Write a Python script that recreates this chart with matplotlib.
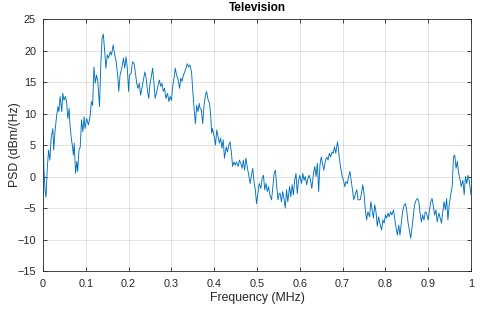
import matplotlib
matplotlib.use("Agg")
import matplotlib.pyplot as plt

# values
freq = [
    0.000, 0.002, 0.005, 0.007, 0.010, 0.013, 0.016, 0.019, 0.023, 0.025,
    0.028, 0.032, 0.035, 0.037, 0.040, 0.044, 0.046, 0.049, 0.052, 0.055,
    0.058, 0.061, 0.063, 0.066, 0.069, 0.071, 0.073, 0.076, 0.079, 0.081,
    0.084, 0.087, 0.090, 0.093, 0.096, 0.098, 0.102, 0.106, 0.110, 0.113,
    0.116, 0.119, 0.122, 0.125, 0.128, 0.132, 0.135, 0.138, 0.141, 0.144,
    0.147, 0.150, 0.153, 0.157, 0.160, 0.164, 0.167, 0.171, 0.175, 0.177,
    0.180, 0.184, 0.188, 0.191, 0.194, 0.197, 0.200, 0.202, 0.206, 0.209,
    0.213, 0.216, 0.219, 0.222, 0.225, 0.228, 0.231, 0.234, 0.238, 0.241,
    0.244, 0.247, 0.250, 0.253, 0.256, 0.259, 0.262, 0.266, 0.269, 0.272,
    0.275, 0.278, 0.281, 0.284, 0.287, 0.291, 0.294, 0.297, 0.300, 0.303,
    0.306, 0.309, 0.312, 0.315, 0.319, 0.322, 0.325, 0.328, 0.331, 0.334,
    0.337, 0.340, 0.343, 0.347, 0.350, 0.353, 0.356, 0.359, 0.362, 0.365,
    0.367, 0.370, 0.373, 0.376, 0.379, 0.382, 0.386, 0.389, 0.392, 0.394,
    0.396, 0.400, 0.403, 0.406, 0.409, 0.412, 0.415, 0.418, 0.421, 0.424,
    0.428, 0.431, 0.434, 0.437, 0.440, 0.443, 0.446, 0.449, 0.452, 0.456,
    0.459, 0.462, 0.465, 0.468, 0.471, 0.474, 0.477, 0.481, 0.484, 0.487,
    0.490, 0.493, 0.496, 0.499, 0.502, 0.505, 0.509, 0.512, 0.515, 0.518,
    0.521, 0.524, 0.527, 0.530, 0.534, 0.537, 0.540, 0.543, 0.546, 0.549,
    0.552, 0.554, 0.557, 0.560, 0.563, 0.566, 0.569, 0.572, 0.576, 0.579,
    0.582, 0.585, 0.588, 0.591, 0.594, 0.597, 0.600, 0.604, 0.607, 0.610,
    0.613, 0.616, 0.619, 0.622, 0.625, 0.628, 0.632, 0.635, 0.638, 0.641,
    0.644, 0.647, 0.650, 0.653, 0.656, 0.660, 0.663, 0.666, 0.669, 0.672,
    0.675, 0.678, 0.681, 0.684, 0.688, 0.690, 0.692, 0.695, 0.699, 0.702,
    0.705, 0.708, 0.711, 0.714, 0.717, 0.720, 0.723, 0.726, 0.730, 0.733,
    0.736, 0.741, 0.744, 0.747, 0.750, 0.753, 0.756, 0.759, 0.763, 0.766,
    0.769, 0.772, 0.775, 0.778, 0.781, 0.784, 0.787, 0.791, 0.794, 0.797,
    0.800, 0.803, 0.806, 0.809, 0.812, 0.815, 0.819, 0.822, 0.825, 0.828,
    0.831, 0.834, 0.837, 0.840, 0.844, 0.847, 0.850, 0.853, 0.856, 0.859,
    0.862, 0.865, 0.868, 0.872, 0.875, 0.878, 0.881, 0.884, 0.887, 0.890,
    0.893, 0.896, 0.900, 0.903, 0.906, 0.909, 0.912, 0.915, 0.918, 0.921,
    0.925, 0.928, 0.931, 0.934, 0.937, 0.940, 0.943, 0.946, 0.949, 0.953,
    0.956, 0.959, 0.962, 0.965, 0.968, 0.971, 0.974, 0.977, 0.981, 0.984,
    0.987, 0.990, 0.993, 0.996, 1.000,
]
psd = [
    9.0, 1.3, -2.4, -3.3, 1.3, 4.2, 2.6, 6.1, 7.6, 4.2,
    7.1, 9.8, 11.1, 10.3, 12.7, 10.3, 13.2, 12.1, 12.7, 11.9,
    9.2, 10.8, 8.2, 6.1, 4.7, 3.4, 5.3, 0.5, 2.4, 0.8,
    4.2, 4.7, 9.0, 7.1, 9.5, 7.6, 9.2, 8.2, 9.5, 11.9,
    11.3, 17.4, 14.8, 16.1, 15.1, 11.1, 17.7, 21.9, 22.6, 19.8,
    17.2, 19.3, 18.8, 19.8, 19.3, 20.9, 19.5, 18.2, 15.6, 13.5,
    16.1, 17.2, 18.8, 17.2, 19.0, 17.2, 13.5, 16.1, 16.4, 18.2,
    17.9, 16.4, 14.8, 14.0, 14.8, 12.9, 14.0, 15.1, 16.6, 15.6,
    13.7, 12.4, 14.8, 15.8, 17.2, 15.1, 12.4, 13.5, 14.5, 15.3,
    14.3, 14.8, 13.5, 14.0, 12.4, 13.2, 11.9, 12.7, 12.1, 14.3,
    15.6, 17.2, 16.1, 15.6, 14.0, 15.6, 15.1, 16.1, 16.6, 17.2,
    17.9, 17.4, 17.7, 16.6, 13.5, 10.8, 8.4, 11.3, 10.3, 11.6,
    10.8, 10.6, 8.4, 11.1, 12.7, 13.5, 12.1, 11.6, 9.5, 6.9,
    7.6, 6.3, 5.0, 7.4, 6.3, 5.3, 6.1, 4.5, 5.8, 2.9,
    4.7, 3.9, 5.0, 5.5, 3.9, 1.6, 2.3, 1.8, 2.3, 1.6,
    2.6, 2.1, 1.3, 2.6, 1.0, 2.9, 1.6, 0.0, -1.1, 0.2,
    1.3, -0.8, -2.1, -4.3, -2.7, -1.1, -1.9, -0.3, 0.2, -2.1,
    -1.1, -2.4, -1.6, -2.9, -3.7, -1.6, 0.5, 1.0, -1.6, -3.7,
    -2.7, -2.7, -4.0, -2.4, -3.5, -5.0, -2.1, -4.0, -1.6, -3.2,
    -1.3, -2.9, -0.6, 0.5, -2.7, -0.6, 0.2, -1.1, 0.5, -0.6,
    0.0, -1.3, -0.3, 0.2, -0.6, -1.9, 0.5, 1.6, 0.0, 2.1,
    -2.4, 1.8, 3.1, 2.1, 1.0, 2.6, 3.1, 2.6, 3.7, 3.1,
    3.9, 3.7, 4.7, 3.7, 5.5, 4.5, 3.1, 1.6, 0.0, -0.6,
    -1.6, -0.8, -1.1, 0.0, 0.8, -0.6, -2.1, -3.7, -2.7, -2.1,
    -3.7, -3.7, -2.7, -1.3, -2.7, -5.3, -6.9, -5.6, -6.4, -4.0,
    -5.3, -6.6, -4.5, -5.6, -7.9, -6.4, -7.4, -8.5, -6.9, -7.4,
    -6.1, -6.6, -5.8, -6.4, -5.6, -6.1, -5.3, -6.9, -8.2, -9.3,
    -7.7, -9.3, -7.4, -5.6, -4.5, -4.3, -5.6, -7.4, -8.5, -9.8,
    -8.2, -6.4, -4.5, -3.7, -3.5, -4.0, -5.8, -7.2, -6.1, -6.9,
    -5.6, -5.8, -6.9, -5.3, -4.0, -3.5, -4.8, -6.1, -5.3, -7.2,
    -5.8, -6.6, -7.4, -5.6, -4.0, -5.3, -3.5, -6.9, -4.5, -2.7,
    -1.6, 3.1, 3.4, 1.3, 2.4, 0.5, -0.3, -1.6, -0.6, -2.9,
    0.0, -1.1, 0.2, -0.8, -2.9,
]
xticks = [0, 0.1, 0.2, 0.3, 0.4, 0.5, 0.6, 0.7, 0.8, 0.9, 1]
xticklabels = ["0", "0.1", "0.2", "0.3", "0.4", "0.5", "0.6", "0.7", "0.8", "0.9", "1"]
yticks = [-15, -10, -5, 0, 5, 10, 15, 20, 25]

plt.rcParams['font.family'] = ['Liberation Sans', 'DejaVu Sans']
dark = (0.15, 0.15, 0.15)

fig = plt.figure(figsize=(4.8, 3.11), dpi=100)
ax = fig.add_axes([0.0896, 0.1286, 0.8917, 0.8103])

ax.plot(freq, psd, color=(0, 0.447, 0.741), lw=0.65)

ax.set_xlim(0, 1)
ax.set_ylim(-15, 25)
ax.set_xticks(xticks)
ax.set_xticklabels(xticklabels)
ax.set_yticks(yticks)
ax.grid(True, color=(0.15, 0.15, 0.15), alpha=0.15, lw=0.6)
ax.tick_params(direction='in', top=True, right=True, length=3, width=0.6,
               labelsize=7.8, colors=dark, pad=5)
ax.tick_params(axis='x', pad=6)
for s in ax.spines.values():
    s.set_color(dark)
    s.set_linewidth(0.6)

ax.set_xlabel("Frequency (MHz)", fontsize=8.8, color=dark, labelpad=2)
ax.set_ylabel("PSD (dBm/(Hz)", fontsize=8.8, color=dark)
ax.yaxis.set_label_coords(-0.052, 0.5)
ax.set_title("Television", fontsize=8.5, fontweight='bold', color='black', pad=5.5)

fig.savefig("out.png", dpi=100)
